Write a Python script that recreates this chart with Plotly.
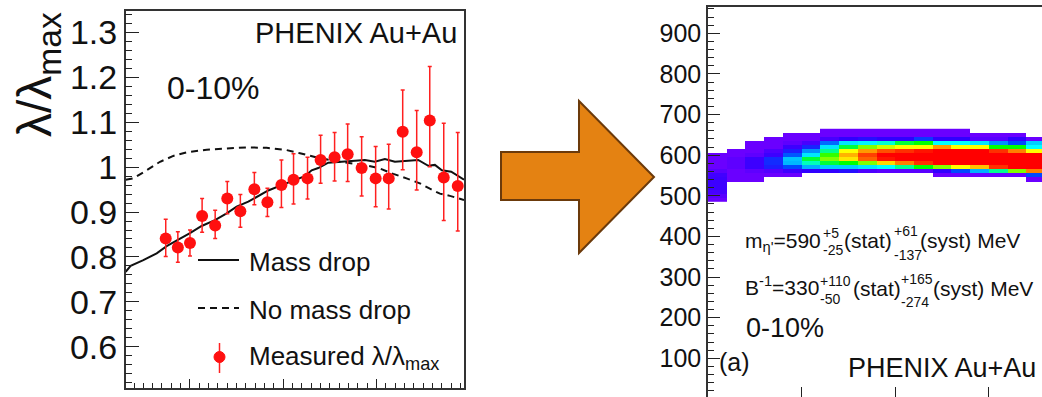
import plotly.graph_objects as go

W, H = 1042, 397
FONT = "Liberation Sans, Arial, sans-serif"

def fx(px):
    return px / W

def fy(py):
    return 1 - py / H

# ---------------- left panel data ----------------
pt_x = [0.174, 0.187, 0.200, 0.213, 0.227, 0.240, 0.254, 0.269, 0.283, 0.298,
        0.311, 0.326, 0.340, 0.355, 0.369, 0.384, 0.399, 0.413, 0.428, 0.443,
        0.457, 0.472, 0.487]
pt_y = [0.841, 0.821, 0.831, 0.891, 0.870, 0.930, 0.902, 0.951, 0.922, 0.960,
        0.972, 0.975, 1.016, 1.022, 1.029, 0.998, 0.975, 0.975, 1.079, 1.033,
        1.104, 0.977, 0.958]
err_up = [0.043, 0.035, 0.029, 0.039, 0.034, 0.038, 0.037, 0.037, 0.031, 0.056,
          0.058, 0.047, 0.055, 0.055, 0.067, 0.070, 0.071, 0.076, 0.093, 0.093,
          0.120, 0.121, 0.119]
err_dn = [0.040, 0.033, 0.029, 0.036, 0.029, 0.034, 0.036, 0.035, 0.032, 0.050,
          0.054, 0.046, 0.052, 0.053, 0.061, 0.062, 0.063, 0.068, 0.085, 0.084,
          0.103, 0.096, 0.100]

md_x = [0.1311, 0.1364, 0.1500, 0.1643, 0.1750, 0.1875, 0.2000, 0.2125, 0.2268,
        0.2393, 0.2500, 0.2625, 0.2732, 0.2839, 0.2982, 0.3125, 0.3232, 0.3304,
        0.3375, 0.3482, 0.3625, 0.3768, 0.3875, 0.3982, 0.4089, 0.4196, 0.4339,
        0.4446, 0.4554, 0.4625, 0.4700, 0.4800, 0.4937]
md_y = [0.767, 0.780, 0.793, 0.808, 0.824, 0.838, 0.853, 0.869, 0.882, 0.897,
        0.912, 0.923, 0.936, 0.948, 0.960, 0.972, 0.980, 0.993, 0.998, 1.010,
        1.012, 1.015, 1.016, 1.012, 1.018, 1.012, 1.015, 1.016, 1.003, 1.005,
        0.993, 0.990, 0.972]

nmd_x = [0.1311, 0.1393, 0.1536, 0.1679, 0.1821, 0.1964, 0.2179, 0.2429, 0.2607,
         0.2821, 0.3036, 0.3179, 0.3393, 0.3607, 0.3750, 0.3893, 0.4036, 0.4179,
         0.4321, 0.4464, 0.4571, 0.4679, 0.4786, 0.4937]
nmd_y = [0.972, 0.975, 0.993, 1.012, 1.025, 1.033, 1.039, 1.042, 1.044, 1.043,
         1.038, 1.031, 1.020, 1.012, 1.008, 1.004, 0.997, 0.985, 0.975, 0.964,
         0.952, 0.941, 0.936, 0.927]

# ---------------- right panel data ----------------
binv_centers = [10, 30, 50, 70, 90, 110, 130, 150, 170, 190, 210, 230, 250, 270,
                290, 310, 330, 350]
mass_centers = [660, 650, 640, 630, 620, 610, 600, 590, 580, 570, 560, 550, 540,
                530, 520, 510, 500, 490]
N = None
levels = [
    [N, N, N, N, N, N, 1, 1, 1, 1, 1, 1, 1, 1, N, N, N, N],
    [N, N, N, N, 1, 1, 1, 1, 1, 1, 1, 1, 1, 1, 1, 1, 1, N],
    [N, N, N, 1, 1, 1, 1.6, 2, 2.2, 2, 2, 2.8, 2, 2, 1.3, 1.3, 2, 1],
    [N, N, 1, 1, 1.2, 1.6, 3.5, 5.5, 5.8, 6.2, 6.8, 7, 6, 6, 5.5, 4, 3, 5],
    [N, N, 1, 1, 1.8, 2.5, 5.5, 6.8, 7.5, 7.8, 8, 8, 8.8, 8, 8, 7, 7, 6],
    [N, 1, 1, 1.5, 2.4, 4, 6.5, 8, 8.8, 9.3, 9.5, 9.8, 10, 10, 10, 9.5, 9, 8],
    [1, 1, 1.2, 1.8, 3.2, 5.5, 7.2, 8.6, 9.4, 10, 10, 10, 10, 10, 10, 10, 10, 10],
    [1, 1.2, 1.8, 2.6, 4.8, 6.8, 7.5, 8.2, 9.2, 9.8, 10, 10, 10, 10, 10, 10, 10, 10],
    [1, 1.2, 1.8, 2.6, 4.6, 6.3, 6.8, 7, 7.5, 8.3, 9, 9.5, 10, 10, 10, 10, 10, 10],
    [1, 1.2, 1.8, 2.4, 3, 4.5, 5, 5, 5.5, 6, 6.5, 7, 7.5, 8, 8.5, 9.5, 10, 10],
    [1.3, 1, 1.2, 1.4, 1.8, 2, 2, 2.2, 1.5, 1.3, 1.3, 1.3, 2, 3, 4.5, 6.5, 7.5, 9],
    [1.7, 1, 1, 1, 1, N, N, N, N, N, N, N, 1, 1, 1, 1, 1, 3],
    [1.8, 1, 1, N, N, N, N, N, N, N, N, N, N, N, N, N, N, 1],
    [1.8, N, N, N, N, N, N, N, N, N, N, N, N, N, N, N, N, N],
    [1.8, N, N, N, N, N, N, N, N, N, N, N, N, N, N, N, N, N],
    [1.6, N, N, N, N, N, N, N, N, N, N, N, N, N, N, N, N, N],
    [1.3, N, N, N, N, N, N, N, N, N, N, N, N, N, N, N, N, N],
    [1, N, N, N, N, N, N, N, N, N, N, N, N, N, N, N, N, N],
]

rainbow = [
    [0.000, "#6a00ff"], [0.111, "#3000ff"], [0.222, "#0048ff"], [0.333, "#0090ff"],
    [0.444, "#00d0ff"], [0.556, "#00ffff"], [0.611, "#00ff90"], [0.667, "#00ff00"],
    [0.722, "#80ff00"], [0.778, "#ffff00"], [0.833, "#ffc000"], [0.889, "#ff8000"],
    [0.944, "#ff3000"], [1.000, "#ff0000"],
]

fig = go.Figure()

fig.add_trace(go.Scatter(x=nmd_x, y=nmd_y, mode="lines", xaxis="x", yaxis="y",
                         line=dict(color="#111", width=2, dash="7px,5px"),
                         showlegend=False, hoverinfo="skip"))
fig.add_trace(go.Scatter(x=md_x, y=md_y, mode="lines", xaxis="x", yaxis="y",
                         line=dict(color="#111", width=2),
                         showlegend=False, hoverinfo="skip"))
fig.add_trace(go.Scatter(x=pt_x, y=pt_y, mode="markers", xaxis="x", yaxis="y",
                         marker=dict(color="#ff1010", size=12),
                         error_y=dict(type="data", symmetric=False, array=err_up,
                                      arrayminus=err_dn, color="#ff2020",
                                      thickness=1.5, width=2),
                         showlegend=False))

fig.add_trace(go.Heatmap(x=binv_centers, y=mass_centers, z=levels,
                         colorscale=rainbow, zmin=1, zmax=10, showscale=False,
                         xaxis="x2", yaxis="y2", hoverongaps=False))

axis_common = dict(showgrid=False, zeroline=False, showline=True,
                   linecolor="#333", linewidth=1.5, ticks="inside",
                   tickcolor="#222", tickwidth=1.2)

fig.update_layout(
    width=W, height=H,
    margin=dict(l=0, r=0, t=0, b=0),
    paper_bgcolor="white", plot_bgcolor="white",
    font=dict(family=FONT, color="#111"),
    xaxis=dict(domain=[fx(125.7), fx(464)], range=[0.1311, 0.4937], anchor="y",
               mirror=True, ticklen=9, dtick=0.1, tick0=0,
               minor=dict(dtick=0.01, ticklen=5, ticks="inside", tickcolor="#222"),
               showticklabels=False, **axis_common),
    yaxis=dict(domain=[fy(388), fy(10.5)], range=[0.508, 1.349], anchor="x",
               mirror=True, ticklen=14, dtick=0.1, tick0=0,
               minor=dict(dtick=0.02, ticklen=7, ticks="inside", tickcolor="#222"),
               tickfont=dict(size=34, family=FONT, color="#111"), **axis_common),
    xaxis2=dict(domain=[fx(708), 1.0], range=[0, 357.2], anchor="y2",
                mirror=True, ticklen=10, dtick=100, tick0=0,
                showticklabels=False, **axis_common),
    yaxis2=dict(domain=[0, fy(7)], range=[4.7, 964.8], anchor="x2",
                mirror=False, ticklen=12, dtick=100, tick0=0,
                minor=dict(dtick=20, ticklen=6, ticks="inside", tickcolor="#222"),
                tickfont=dict(size=25, family=FONT, color="#111"),
                **axis_common),
)

# ---------------- arrow ----------------
arrow_pts = [(501, 152), (579, 152), (579, 101), (654, 177), (579, 253),
             (579, 200), (501, 200)]
path = "M " + " L ".join(f"{fx(a):.5f},{fy(b):.5f}" for a, b in arrow_pts) + " Z"
shapes = [dict(type="path", xref="paper", yref="paper", path=path,
               fillcolor="#e48212", line=dict(color="#6b3a0b", width=2))]

# ---------------- legend (left panel) ----------------
shapes.append(dict(type="line", xref="paper", yref="paper",
                   x0=fx(198), x1=fx(239), y0=fy(260), y1=fy(260),
                   line=dict(color="#111", width=2)))
shapes.append(dict(type="line", xref="paper", yref="paper",
                   x0=fx(198), x1=fx(239), y0=fy(308), y1=fy(308),
                   line=dict(color="#111", width=2, dash="7px,5px")))
shapes.append(dict(type="line", xref="paper", yref="paper",
                   x0=fx(219.5), x1=fx(219.5), y0=fy(343), y1=fy(373),
                   line=dict(color="#ff2020", width=1.5)))
shapes.append(dict(type="circle", xref="paper", yref="paper",
                   x0=fx(214), x1=fx(225), y0=fy(362.5), y1=fy(351.5),
                   fillcolor="#ff1010", line=dict(color="#ff1010", width=1)))

annotations = []

def txt(text, px, py, size, anchor="left", yanchor="middle", angle=0):
    annotations.append(dict(text=text, x=fx(px), y=fy(py), xref="paper",
                            yref="paper", showarrow=False, xanchor=anchor,
                            yanchor=yanchor, textangle=angle, borderpad=0,
                            font=dict(size=size, family=FONT, color="#111")))

txt("Mass drop", 248, 262, 26)
txt("No mass drop", 248, 310, 26)
txt("Measured λ/λ<sub>max</sub>", 248, 357, 26)
txt("PHENIX Au+Au", 458, 33, 29, anchor="right")
txt("0-10%", 166, 88, 32)
txt("λ/λ<sub>max</sub>", 38, 75, 48, anchor="center", angle=-90)

# ---------------- right panel texts ----------------
txt("m<sub>η'</sub>=590", 744, 242, 21)
txt("+5", 822, 233, 14)
txt("-25", 822, 250, 14)
txt("(stat)", 843, 240, 21)
txt("+61", 893, 231, 14)
txt("-137", 893, 255, 14)
txt("(syst) MeV", 919, 240, 21)

txt("B<sup>-1</sup>=330", 744, 286, 21)
txt("+110", 819, 281, 14)
txt("-50", 819, 299, 14)
txt("(stat)", 852, 288, 21)
txt("+165", 900, 279, 14)
txt("-274", 900, 302, 14)
txt("(syst) MeV", 932, 288, 21)

txt("0-10%", 745, 328, 27)
txt("(a)", 718, 362, 25)
txt("PHENIX Au+Au", 1037, 368, 27, anchor="right")

fig.update_layout(shapes=shapes, annotations=annotations)

fig.write_html("out.html")
